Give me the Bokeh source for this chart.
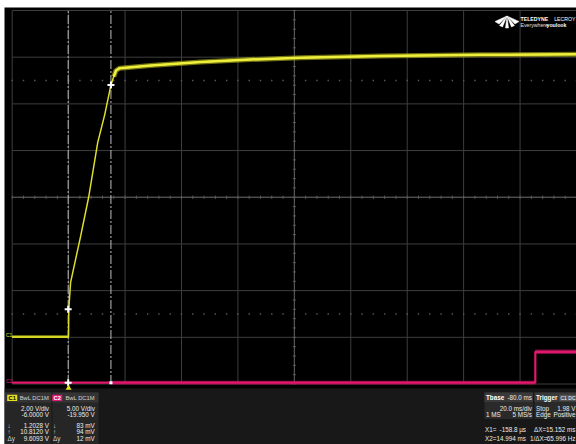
import numpy as np
from bokeh.plotting import figure
from bokeh.models import Range1d, Label
from bokeh.embed import file_html
from bokeh.resources import INLINE

# ---------------- data ----------------
t_left_ms, t_right_ms = -20.0, 180.0          # 20 ms/div, 10 div, trigger at div 1
time_per_div_ms = 20.0
c1_volts_per_div, c1_offset_v = 2.00, -6.0000
c2_volts_per_div, c2_offset_v = 5.00, -19.950

c1_time_ms = [-20.0, -0.05, 0.0, 0.05, 0.7, 4.3, 7.1, 10.3, 12.8, 15.0, 16.0, 16.8, 18.1,
              29.1, 46.8, 64.5, 82.3, 110.6, 146.0, 180.0]
c1_volts = [0.02, 0.02, 0.6, 1.20, 2.35, 4.36, 6.00, 8.34, 9.54, 10.81, 11.17, 11.43, 11.53,
            11.64, 11.79, 11.90, 11.98, 12.05, 12.10, 12.13]

c2_time_ms = [-20.0, 165.4, 165.4, 180.0]
c2_volts = [0.09, 0.09, 3.40, 3.40]

cursor_x1_ms = -0.1588
cursor_x2_ms = 14.994
c1_at_cursors_v = [1.2028, 10.8120]
c2_at_cursors_v = [0.083, 0.094]

c1_readout = ["2.00 V/div", "-6.0000 V", "1.2028 V", "10.8120 V", "9.6093 V"]
c2_readout = ["5.00 V/div", "-19.950 V", "83 mV", "94 mV", "12 mV"]
cursor_symbols = ["\u2193", "\u2191", "\u0394y"]
coupling_label = "BwL DC1M"

# ---------------- layout helpers (reference pixel -> data) ----------------
W, H = 576, 444
FL, FT = 4, 7                      # white strip at left / top of the screenshot
FW, FH = W - FL, H - FT
grid_left_px = 11.7 - FL
pxms = (FW - grid_left_px) / (t_right_ms - t_left_ms)
XL = t_left_ms - grid_left_px / pxms
grid_top_px = 10.0 - FT
grid_bot_px = 383.5 - FT
pxdiv = (grid_bot_px - grid_top_px) / 8.0
YT = 4 + grid_top_px / pxdiv
YB = YT - FH / pxdiv


def rx(xr):
    return XL + (xr - FL) / pxms


def ry(yr):
    return YT - (yr - FT) / pxdiv


def c1_div(v):
    return (np.asarray(v) + c1_offset_v) / c1_volts_per_div


def c2_div(v):
    return (np.asarray(v) + c2_offset_v) / c2_volts_per_div


p = figure(width=W, height=H, x_range=Range1d(XL, t_right_ms), y_range=Range1d(YB, YT),
           output_backend="svg", toolbar_location=None,
           min_border_left=FL, min_border_top=FT, min_border_right=0, min_border_bottom=0,
           x_axis_type=None, y_axis_type=None,
           background_fill_color="black", border_fill_color="white",
           outline_line_color=None)
p.grid.visible = False

FONT = "Liberation Sans"
FS = "6.3px"

# ---------------- bottom panel background ----------------
p.quad(left=[XL], right=[t_right_ms], top=[ry(388)], bottom=[YB], fill_color="#181818", line_color=None)

# ---------------- graticule ----------------
vt = [t_left_ms + time_per_div_ms * k for k in range(11)]
p.segment(x0=vt, y0=[-4] * 11, x1=vt, y1=[4] * 11, line_color="#3e3e3e", line_width=1)
hd = list(range(-4, 5))
p.segment(x0=[t_left_ms] * 9, y0=hd, x1=[t_right_ms] * 9, y1=hd, line_color="#3e3e3e", line_width=1)
# centre cross with minor ticks
p.segment(x0=[80], y0=[-4], x1=[80], y1=[4], line_color="#5a5a5a", line_width=1)
p.segment(x0=[t_left_ms], y0=[0], x1=[t_right_ms], y1=[0], line_color="#5a5a5a", line_width=1)
mt = [t_left_ms + 4 * k for k in range(51)]
p.segment(x0=mt, y0=[-0.035] * 51, x1=mt, y1=[0.035] * 51, line_color="#5a5a5a", line_width=1)
md = [-4 + 0.2 * k for k in range(41)]
p.segment(x0=[79.45] * 41, y0=md, x1=[80.55] * 41, y1=md, line_color="#5a5a5a", line_width=1)
# dotted level lines
p.scatter(x=mt * 2, y=[2.5] * 51 + [-2.5] * 51, marker="square", size=1.4,
          fill_color="#5a5a5a", line_color=None)

# ---------------- cursors ----------------
for cx in (cursor_x1_ms, cursor_x2_ms):
    p.line(x=[cx, cx], y=[-4, 4], line_color="#bdbdbd", line_width=1, line_dash="9 2 2 2")

# ---------------- traces ----------------
c1t = np.array(c1_time_ms)
c1d = c1_div(c1_volts)
m = c1t >= 15.6
b = c1t <= 0.0
p.line(c1t[m], c1d[m], line_color="#a0a01a", line_width=5.0, line_alpha=0.7)
p.line(c1t, c1d, line_color="#dede2a", line_width=1.5)
p.line(c1t[m], c1d[m], line_color="#eeee3c", line_width=2.5)
p.line(c1t[b][:2], c1d[b][:2], line_color="#d6d624", line_width=2.5)

c2t = np.array(c2_time_ms)
c2d = c2_div(c2_volts)
p.line([cursor_x2_ms, c2t[1]], [c2d[0], c2d[1]], line_color="#9a0f4c", line_width=4.0, line_alpha=0.75)
p.line(c2t[2:], c2d[2:], line_color="#9a0f4c", line_width=4.5, line_alpha=0.8)
p.line(c2t, c2d, line_color="#e2186e", line_width=2.2)

# cursor markers on traces
p.scatter(x=[cursor_x1_ms, cursor_x2_ms], y=c1_div(c1_at_cursors_v), marker="cross", size=7,
          line_color="white", line_width=2)
p.scatter(x=[cursor_x1_ms], y=c2_div(c2_at_cursors_v[:1]), marker="cross", size=7,
          line_color="white", line_width=2)
p.scatter(x=[cursor_x2_ms], y=c2_div(c2_at_cursors_v[1:]), marker="square", size=3,
          fill_color="white", line_color=None)
# trigger position marker
p.scatter(x=[0.0], y=[ry(387.6)], marker="triangle", size=6, fill_color="#e6e020", line_color=None)


def lab(x, y, text, color="#ececec", align="left", size=FS, bold=False, font=FONT):
    p.add_layout(Label(x=rx(x), y=ry(y), text=text, text_color=color, text_align=align,
                       text_baseline="middle", text_font_size=size, text_font=font,
                       text_font_style="bold" if bold else "normal"))


# channel labels at left edge
lab(5.5, 334.2, "C1", color="#e6e020", size="5px")
lab(5.5, 380.8, "C2", color="#e2186e", size="5px")

# ---------------- readout boxes ----------------
def box(x0, x1, y0, y1, color):
    p.quad(left=[rx(x0)], right=[rx(x1)], top=[ry(y0)], bottom=[ry(y1)], fill_color=color, line_color=None)


box(4.5, 51, 392, 444, "#262626")
box(52, 98, 392, 444, "#262626")
box(4.5, 51, 392, 402, "#343434")
box(52, 98, 392, 402, "#343434")
box(6.7, 16.7, 394.3, 400.6, "#e6e020")
box(51.7, 61.7, 394.3, 400.6, "#e0187a")
lab(11.7, 397.5, "C1", color="black", align="center", size="5.8px", bold=True)
lab(56.7, 397.5, "C2", color="white", align="center", size="5.8px", bold=True)
lab(48.5, 397.3, coupling_label, color="#d4d4d4", align="right", size="5.8px")
lab(94.3, 397.3, coupling_label, color="#d4d4d4", align="right", size="5.8px")

rows_y = [408.3, 414.3, 425.3, 431.3, 437.7]
for txt, yy in zip(c1_readout, rows_y):
    lab(48.5, yy, txt, align="right")
for txt, yy in zip(c2_readout, rows_y):
    lab(94.3, yy, txt, align="right")
for sym, yy in zip(cursor_symbols, rows_y[2:]):
    lab(7.0, yy, sym, color="#d4d4d4")
    lab(52.5, yy, sym, color="#d4d4d4")

# timebase / trigger boxes
box(484, 532.5, 392, 418.5, "#2a2a2a")
box(534, 577, 392, 418.5, "#2a2a2a")
box(484, 532.5, 392, 401.5, "#3a3a3a")
box(534, 577, 392, 401.5, "#3a3a3a")
box(559, 577, 394.3, 400.6, "#555555")
lab(485.5, 397.3, "Tbase", color="white", bold=True)
lab(531.5, 397.3, "-80.0 ms", align="right")
lab(531.5, 408.3, "20.0 ms/div", align="right")
lab(485.5, 414.3, "1 MS")
lab(531.5, 414.3, "5 MS/s", align="right")
lab(535.5, 397.3, "Trigger", color="white", bold=True)
lab(567.5, 397.5, "C1 DC", color="white", size="5px", align="center")
lab(535.5, 408.3, "Stop")
lab(575.0, 408.3, "1.98 V", align="right")
lab(535.5, 414.3, "Edge")
lab(575.0, 414.3, "Positive", align="right")
lab(484.5, 429.3, "X1=")
lab(525.5, 429.3, "-158.8 \u00b5s", align="right")
lab(533.5, 429.3, "\u0394X=")
lab(575.0, 429.3, "15.152 ms", align="right")
lab(484.5, 437.5, "X2=")
lab(525.5, 437.5, "14.994 ms", align="right")
lab(529.5, 437.5, "1/\u0394X=")
lab(575.0, 437.5, "65.996 Hz", align="right")

# ---------------- logo ----------------
logo_polys = [
    [(506.5, 15.5), (494.5, 21.0), (498.5, 23.5)],
    [(506.5, 15.5), (518.5, 21.0), (514.5, 23.5)],
    [(506.5, 15.5), (499.0, 25.0), (502.0, 26.5)],
    [(506.5, 15.5), (514.0, 25.0), (511.0, 26.5)],
    [(506.5, 15.5), (505.0, 27.5), (508.0, 27.5)],
]
p.patches(xs=[[rx(a) for a, b in poly] for poly in logo_polys],
          ys=[[ry(b) for a, b in poly] for poly in logo_polys],
          fill_color="white", line_color="white", line_width=0.5)
lab(520.0, 18.3, "TELEDYNE", color="white", size="5.2px", bold=True)
lab(575.0, 18.3, "LECROY", color="white", size="5.2px", align="right")
lab(520.0, 24.3, "Everywhere", color="#e0e0e0", size="5.2px")
lab(546.0, 24.3, "youlook", color="white", size="5.2px", bold=True)

open("out.html", "w").write(file_html(p, INLINE))
